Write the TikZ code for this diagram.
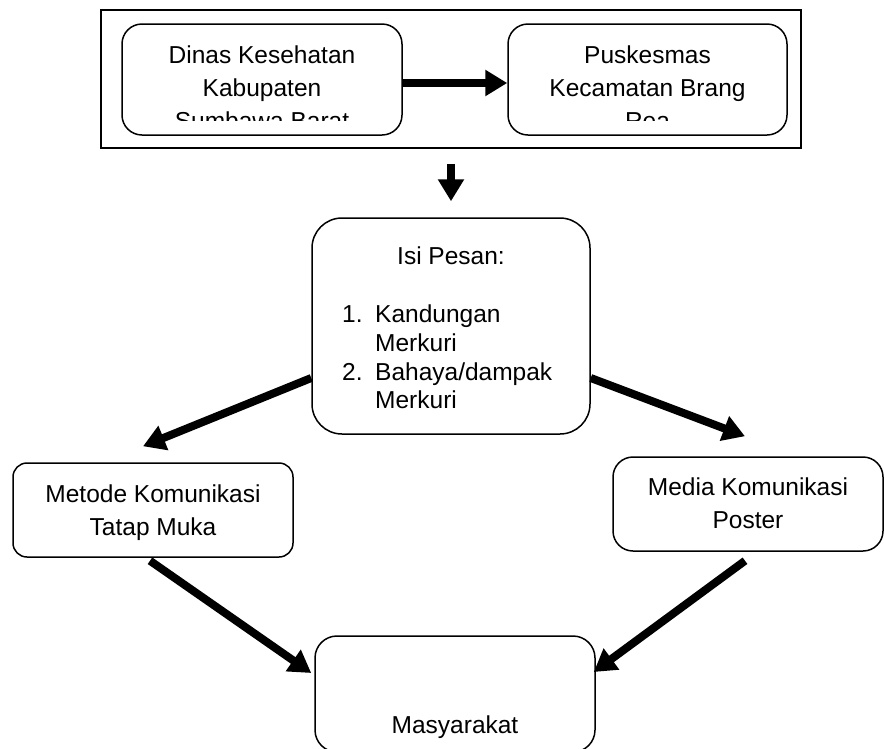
\documentclass[tikz,border=0pt]{standalone}
\usepackage{fontspec}
\setmainfont{Liberation Sans}
\usetikzlibrary{arrows.meta}
\begin{document}
\begin{tikzpicture}[x=1pt,y=-1pt,
  box/.style={draw, line width=1.5pt, rounded corners=#1, inner sep=0pt},
  box/.default=20pt,
  txt/.style={anchor=base, inner sep=0pt, font=\fontsize{24.5}{29}\selectfont},
  txtl/.style={txt, anchor=base west},
  arr/.style={line width=8pt, -{Triangle[length=22pt,width=25pt]}}]
\useasboundingbox (0,0) rectangle (884,748);
\clip (0,0) rectangle (884,748);
% boxes
\node[draw, line width=1.5pt, minimum width=700pt, minimum height=138pt, inner sep=0pt] (top) at (451,79) {};
\node[box, minimum width=280pt, minimum height=111pt] (dinas) at (262,79.5) {};
\node[box, minimum width=279pt, minimum height=111pt] (pusk) at (647.5,79.5) {};
\node[box=30pt, minimum width=278pt, minimum height=216pt] (isi) at (451,326) {};
\node[box=14pt, minimum width=280pt, minimum height=94pt] (metode) at (153,510) {};
\node[box, minimum width=270pt, minimum height=94pt] (media) at (748,504) {};
\node[box=22pt, minimum width=280pt, minimum height=116pt] (masy) at (455,694) {};
% clipped texts of the top boxes
\begin{scope}
\clip (100,24) rectangle (800,120);
\node[txt] (d1) at (262,63) {Dinas Kesehatan};
\node[txt] (d2) at (262,96) {Kabupaten};
\node[txt] (d3) at (262,129) {Sumbawa Barat};
\node[txt] (p1) at (647.5,63) {Puskesmas};
\node[txt] (p2) at (647.5,96) {Kecamatan Brang};
\node[txt] (p3) at (647.5,129) {Rea};
\end{scope}
% Isi Pesan
\node[txt] (i0) at (451,264) {Isi Pesan:};
\node[txtl] (n1) at (342,322) {1.};
\node[txtl] (i1) at (375,322) {Kandungan};
\node[txtl] (i2) at (375,351) {Merkuri};
\node[txtl] (n2) at (342,380) {2.};
\node[txtl] (i3) at (375,380) {Bahaya/dampak};
\node[txtl] (i4) at (375,408) {Merkuri};
% other texts
\node[txt] (m1) at (153,502) {Metode Komunikasi};
\node[txt] (m2) at (153,535) {Tatap Muka};
\node[txt] (e1) at (748,495) {Media Komunikasi};
\node[txt] (e2) at (748,528) {Poster};
\node[txt] (s1) at (455,733) {Masyarakat};
% connectors
\draw[arr] ([yshift=-3.5pt]dinas.east) -- ([yshift=-3.5pt]pusk.west);
\draw[arr] ([yshift=-15pt]top.south) -- ([yshift=16pt]isi.north);
\draw[arr] ([yshift=-52pt]isi.west) -- ([xshift=-10pt,yshift=16pt]metode.north);
\draw[arr] ([yshift=-52pt]isi.east) -- ([xshift=-3pt,yshift=20pt]media.north);
\draw[arr] ([xshift=-3pt,yshift=-3pt]metode.south) -- ([xshift=-3pt,yshift=21pt]masy.west);
\draw[arr] ([xshift=-3pt,yshift=-9pt]media.south) -- ([xshift=-2pt,yshift=22pt]masy.east);
\end{tikzpicture}
\end{document}
